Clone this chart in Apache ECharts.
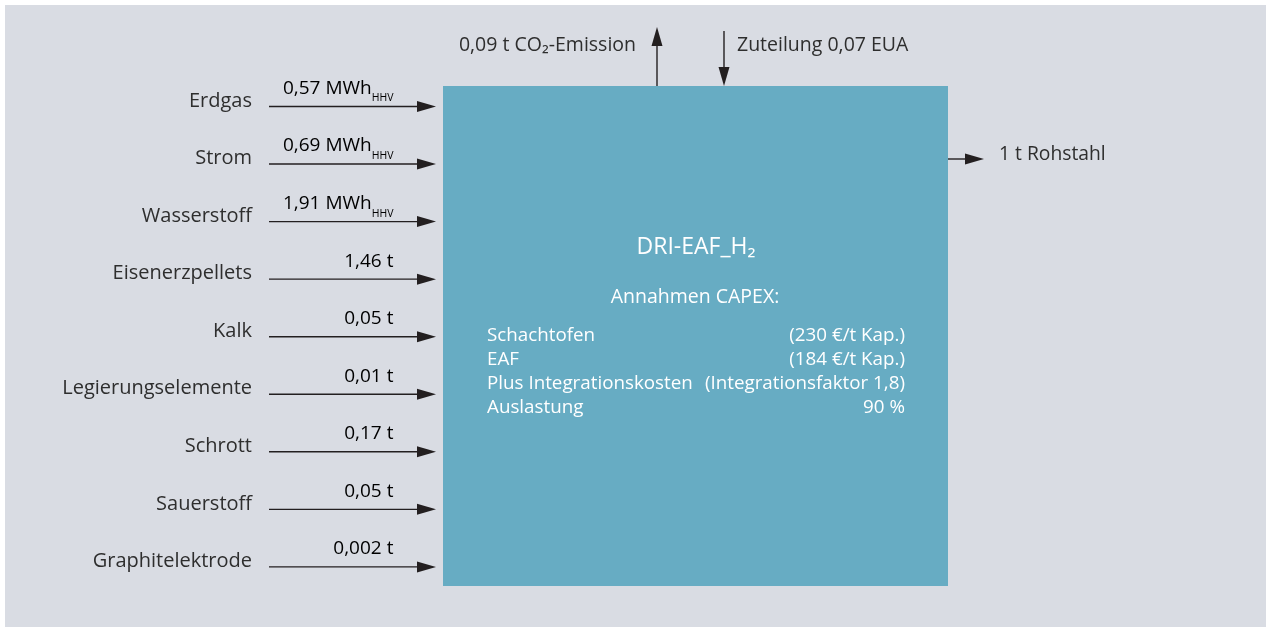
<!DOCTYPE html>
<html><head><meta charset="utf-8">
<script src="https://cdn.jsdelivr.net/npm/echarts@6/dist/echarts.min.js"></script>
<style>html,body{margin:0;padding:0;background:#fff}#c{width:1266px;height:627px}</style>
</head><body><div id="c"></div>
<script>
// ---- data ----
const inputNames = ['Erdgas','Strom','Wasserstoff','Eisenerzpellets','Kalk','Legierungselemente','Schrott','Sauerstoff','Graphitelektrode'];
const inputAmounts = ['0,57','0,69','1,91','1,46','0,05','0,01','0,17','0,05','0,002'];
const inputUnits = ['MWh','MWh','MWh','t','t','t','t','t','t'];
const inputUnitSubs = ['HHV','HHV','HHV','','','','','',''];
const processName = 'DRI-EAF_H₂';
const capexTitle = 'Annahmen CAPEX:';
const capexItems = ['Schachtofen','EAF','Plus Integrationskosten','Auslastung'];
const capexValues = ['(230 €/t Kap.)','(184 €/t Kap.)','(Integrationsfaktor 1,8)','90 %'];
const emissionLabel = '0,09 t CO₂-Emission';
const allocationLabel = 'Zuteilung 0,07 EUA';
const outputLabel = '1 t Rohstahl';

const FONT = 'Open Sans';
const TXT = '#2e2e2e';
const ARROW = '#231f20';
const BOX = '#67acc3';
const BG = '#d9dce3';
const f = (s)=> s+'px "'+FONT+'"';

const chart = echarts.init(document.getElementById('c'), null, {renderer:'canvas'});

function arrowH(x1, x2, y){ // arrow pointing right, tip at x2
  return [
    {type:'line', shape:{x1:x1, y1:y, x2:x2-12, y2:y}, style:{stroke:ARROW, lineWidth:1.4}},
    {type:'polygon', shape:{points:[[x2,y],[x2-19,y-5.5],[x2-19,y+5.5]]}, style:{fill:ARROW}}
  ];
}
function arrowV(x, yFrom, yTip){
  const d = yTip < yFrom ? 1 : -1;
  return [
    {type:'line', shape:{x1:x, y1:yFrom, x2:x, y2:yTip + d*12}, style:{stroke:ARROW, lineWidth:1.4}},
    {type:'polygon', shape:{points:[[x,yTip],[x-5.5,yTip+d*19],[x+5.5,yTip+d*19]]}, style:{fill:ARROW}}
  ];
}

const boxX = 443, boxY = 86, boxW = 505, boxH = 500;
const graphics = [
  {type:'rect', shape:{x:5, y:5, width:1266, height:627}, style:{fill:BG}, z:-10},
  {type:'rect', shape:{x:boxX, y:boxY, width:boxW, height:boxH}, style:{fill:BOX}, z:1},
  ...arrowV(657, boxY, 27),
  ...arrowV(724, 31, boxY),
  ...arrowH(boxX+boxW, 984, 159),
  {type:'text', x:636, y:45, style:{text:emissionLabel, align:'right', verticalAlign:'middle', fill:TXT, font:f(19.5)}},
  {type:'text', x:737, y:45, style:{text:allocationLabel, align:'left', verticalAlign:'middle', fill:TXT, font:f(19.5)}},
  {type:'text', x:999, y:155, style:{text:outputLabel, align:'left', verticalAlign:'middle', fill:TXT, font:f(19.3)}},
  {type:'text', x:696, y:247, z:2, style:{text:processName, align:'center', verticalAlign:'middle', fill:'#fff', font:f(23)}},
  {type:'text', x:695, y:297, z:2, style:{text:capexTitle, align:'center', verticalAlign:'middle', fill:'#fff', font:f(19.5)}}
];
capexItems.forEach((t,i)=>{
  graphics.push({type:'text', x:487, y:336+i*24, z:2, style:{text:t, align:'left', verticalAlign:'middle', fill:'#fff', font:f(18.8)}});
  graphics.push({type:'text', x:905, y:336+i*24, z:2, style:{text:capexValues[i], align:'right', verticalAlign:'middle', fill:'#fff', font:f(18.8)}});
});

chart.setOption({
  animation:false,
  backgroundColor:'#fff',
  textStyle:{fontFamily:FONT},
  graphic:{elements:graphics},
  grid:{left:269, right:1266-436, top:77.7, bottom:31.3, containLabel:false},
  xAxis:{type:'value', min:0, max:1, show:false},
  yAxis:{type:'category', inverse:true, data:inputNames,
    axisLine:{show:false}, axisTick:{show:false}, splitLine:{show:false},
    axisLabel:{color:TXT, fontSize:20, fontFamily:FONT, margin:17, verticalAlign:'bottom', lineHeight:11}},
  series:[{
    type:'custom',
    z:5,
    data: inputNames.map((n,i)=>[1, i]),
    encode:{x:0, y:1},
    renderItem:function(params, api){
      const i = params.dataIndex;
      const p0 = api.coord([0, api.value(1)]);
      const p1 = api.coord([api.value(0), api.value(1)]);
      const y = p0[1];
      const lx = p0[0] + (p1[0]-p0[0])*0.745;
      const sub = inputUnitSubs[i];
      const txt = sub ? '{a|'+inputAmounts[i]+' '+inputUnits[i]+'}{s|'+sub+'}' : '{a|'+inputAmounts[i]+' '+inputUnits[i]+'}';
      return {type:'group', children:[
        ...arrowH(p0[0], p1[0], y),
        {type:'text', x:lx, y:y-18, style:{text:txt, align:'right', verticalAlign:'middle',
          rich:{a:{fontSize:19, fontFamily:FONT, color:TXT},
                s:{fontSize:10.5, fontFamily:FONT, color:TXT, padding:[20,0,0,0]}}}}
      ]};
    }
  }]
});
</script></body></html>
